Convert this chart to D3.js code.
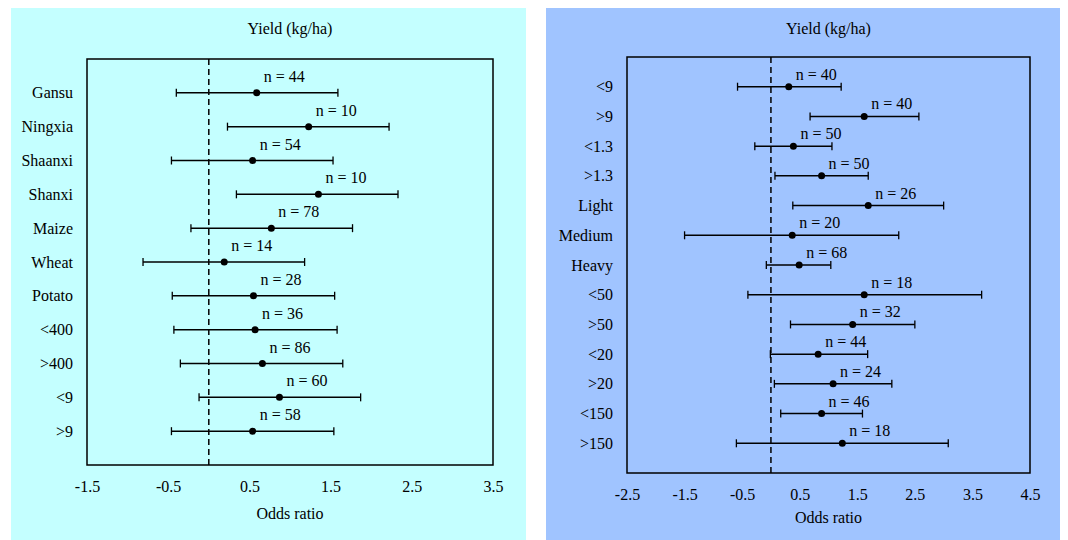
<!DOCTYPE html>
<html>
<head>
<meta charset="utf-8">
<script src="https://cdn.jsdelivr.net/npm/d3@7"></script>
<style>
  body { margin: 0; background: #fff; }
</style>
</head>
<body>
<div class="chart"></div>
<script>
// Left panel data (region / crop / yield / ...)
const leftCats = ["Gansu", "Ningxia", "Shaanxi", "Shanxi", "Maize", "Wheat", "Potato", "<400", ">400", "<9", ">9"];
const leftOdds = [0.59, 1.23, 0.54, 1.35, 0.77, 0.19, 0.55, 0.57, 0.66, 0.87, 0.54];
const leftLow  = [-0.40, 0.23, -0.46, 0.34, -0.22, -0.81, -0.45, -0.43, -0.35, -0.12, -0.46];
const leftHigh = [1.59, 2.22, 1.53, 2.33, 1.77, 1.18, 1.55, 1.58, 1.65, 1.87, 1.54];
const leftN    = [44, 10, 54, 10, 78, 14, 28, 36, 86, 60, 58];
const leftTicks = [-1.5, -0.5, 0.5, 1.5, 2.5, 3.5];

// Right panel data
const rightCats = ["<9", ">9", "<1.3", ">1.3", "Light", "Medium", "Heavy", "<50", ">50", "<20", ">20", "<150", ">150"];
const rightOdds = [0.31, 1.62, 0.39, 0.88, 1.69, 0.37, 0.49, 1.62, 1.42, 0.82, 1.08, 0.88, 1.24];
const rightLow  = [-0.58, 0.68, -0.28, 0.07, 0.38, -1.50, -0.08, -0.40, 0.34, -0.01, 0.06, 0.17, -0.60];
const rightHigh = [1.22, 2.57, 1.06, 1.69, 3.00, 2.22, 1.04, 3.66, 2.50, 1.68, 2.10, 1.59, 3.08];
const rightN    = [40, 40, 50, 50, 26, 20, 68, 18, 32, 44, 24, 46, 18];
const rightTicks = [-2.5, -1.5, -0.5, 0.5, 1.5, 2.5, 3.5, 4.5];

const FONT = "Liberation Serif";

const svg = d3.select(".chart").append("svg")
    .attr("width", 1068)
    .attr("height", 540)
    .attr("font-family", FONT)
    .attr("font-size", 16);

function drawPanel(p) {
    const rows = p.cats.map((c, i) => ({cat: c, odds: p.odds[i], low: p.low[i], high: p.high[i], n: p.n[i]}));

    svg.append("rect")
        .attr("x", p.bg[0]).attr("y", p.bg[1])
        .attr("width", p.bg[2]).attr("height", p.bg[3])
        .attr("fill", p.color);

    const g = svg.append("g")
        .attr("transform", "translate(" + p.left + "," + p.top + ")");

    const x = d3.scaleLinear()
        .domain([p.ticks[0], p.ticks[p.ticks.length - 1]])
        .range([0, p.width]);
    const y = d3.scalePoint()
        .domain(p.cats)
        .range([0, p.height])
        .padding(1);

    // frame
    g.append("rect")
        .attr("width", p.width).attr("height", p.height)
        .attr("fill", "none").attr("stroke", "#000").attr("stroke-width", 1.5);

    // reference line at 0
    g.append("line")
        .attr("x1", x(0)).attr("x2", x(0))
        .attr("y1", 0).attr("y2", p.height)
        .attr("stroke", "#000").attr("stroke-width", 1.5)
        .attr("stroke-dasharray", "6,4");

    // x axis (labels only)
    const xAxis = d3.axisBottom(x).tickValues(p.ticks).tickSize(0).tickPadding(16)
        .tickFormat(d => d3.format(".1f")(d).replace("−", "-"));
    g.append("g")
        .attr("class", "axis x-axis")
        .attr("transform", "translate(0," + p.height + ")")
        .call(xAxis)
        .attr("font-family", FONT).attr("font-size", 16)
        .call(a => a.select(".domain").remove())
        .selectAll("text").attr("fill", "#000");

    // y axis (labels only)
    const yAxis = d3.axisLeft(y).tickSize(0).tickPadding(14);
    g.append("g")
        .attr("class", "axis y-axis")
        .call(yAxis)
        .attr("font-family", FONT).attr("font-size", 16)
        .call(a => a.select(".domain").remove())
        .selectAll("text").attr("fill", "#000");

    // whiskers
    const w = g.selectAll(".ci").data(rows).enter().append("g").attr("class", "ci");
    w.append("line")
        .attr("x1", d => x(d.low)).attr("x2", d => x(d.high))
        .attr("y1", d => y(d.cat)).attr("y2", d => y(d.cat))
        .attr("stroke", "#000").attr("stroke-width", 1.5);
    w.append("line")
        .attr("x1", d => x(d.low)).attr("x2", d => x(d.low))
        .attr("y1", d => y(d.cat) - 4).attr("y2", d => y(d.cat) + 4)
        .attr("stroke", "#000").attr("stroke-width", 1.3);
    w.append("line")
        .attr("x1", d => x(d.high)).attr("x2", d => x(d.high))
        .attr("y1", d => y(d.cat) - 4).attr("y2", d => y(d.cat) + 4)
        .attr("stroke", "#000").attr("stroke-width", 1.3);
    w.append("circle")
        .attr("cx", d => x(d.odds)).attr("cy", d => y(d.cat))
        .attr("r", 3.5).attr("fill", "#000");
    w.append("text")
        .attr("x", d => x(d.odds) + 7)
        .attr("y", d => y(d.cat) - p.nOffset)
        .text(d => "n = " + d.n);

    // titles
    g.append("text")
        .attr("x", p.width / 2).attr("y", p.titleY)
        .attr("text-anchor", "middle")
        .text("Yield (kg/ha)");
    g.append("text")
        .attr("x", p.width / 2).attr("y", p.height + p.xTitleY)
        .attr("text-anchor", "middle")
        .text("Odds ratio");
}

drawPanel({
    cats: leftCats, odds: leftOdds, low: leftLow, high: leftHigh, n: leftN, ticks: leftTicks,
    bg: [11, 8, 515, 532], color: "#C4FFFF",
    left: 87, top: 59, width: 406, height: 406,
    nOffset: 11, titleY: -25, xTitleY: 54
});

drawPanel({
    cats: rightCats, odds: rightOdds, low: rightLow, high: rightHigh, n: rightN, ticks: rightTicks,
    bg: [546, 8, 514, 532], color: "#A0C4FF",
    left: 627, top: 57, width: 403, height: 416,
    nOffset: 7, titleY: -23, xTitleY: 50
});
</script>
</body>
</html>
